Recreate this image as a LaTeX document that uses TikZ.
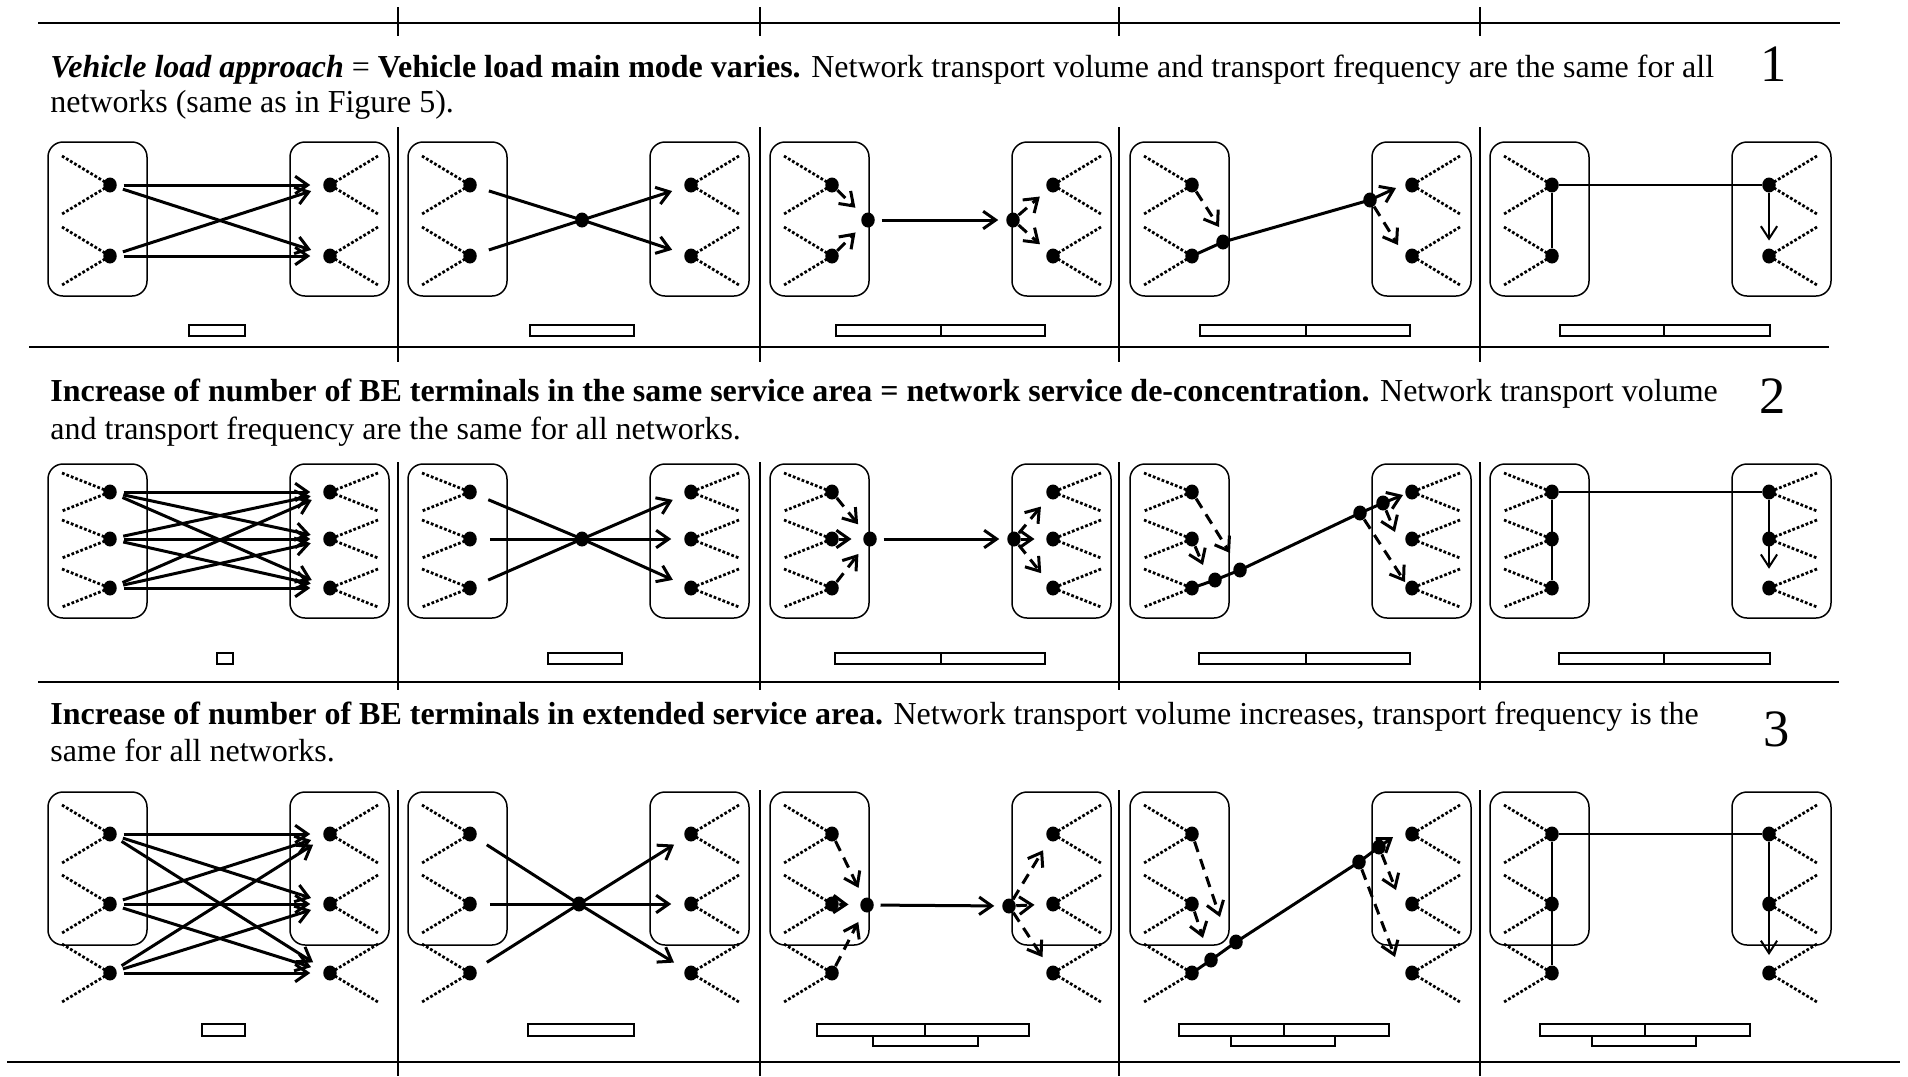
\documentclass[tikz,border=0pt]{standalone}
\usepackage{fontspec}
\setmainfont{Liberation Serif}
\usetikzlibrary{arrows.meta,shapes.geometric}
\begin{document}
\begin{tikzpicture}[x=0.4pt,y=-0.4pt,
  termdot/.style={ellipse,fill=black,inner sep=0pt,minimum width=5.4pt,minimum height=6pt},
  grpbox/.style={draw,line width=0.6pt,rounded corners=6pt},
  dotline/.style={line width=1.1pt,dash pattern=on 1.1pt off 0.8pt},
  flowarrow/.style={line width=1.2pt,-{Straight Barb[length=5pt,width=7pt]}},
  dflow/.style={flowarrow,dash pattern=on 4.4pt off 3pt},
  linkline/.style={line width=0.8pt},
  thinarrow/.style={line width=0.8pt,-{Straight Barb[length=5pt,width=6.5pt]}},
  barbox/.style={draw,line width=0.8pt,fill=white},
  rulel/.style={line width=0.9pt},
  divl/.style={line width=0.6pt},
  txt/.style={anchor=base west,inner sep=0pt,font=\fontsize{12.8}{15}\selectfont},
  num/.style={anchor=base,inner sep=0pt,font=\fontsize{21}{24}\selectfont}]

\path[use as bounding box] (0,0) rectangle (1908,1076);

% rules and dividers
\draw[rulel] (38,23) -- (1840,23);
\draw[rulel] (29,347) -- (1829,347);
\draw[rulel] (38,682) -- (1839,682);
\draw[rulel] (7,1062) -- (1900,1062);
\foreach \x in {398,760,1119,1480} {
  \draw[divl] (\x,7) -- (\x,36);
  \draw[divl] (\x,127) -- (\x,362);
  \draw[divl] (\x,462) -- (\x,690);
  \draw[divl] (\x,790) -- (\x,1076);
}

% texts
\node[txt] (t1a) at (50,77) {\textbf{\textit{Vehicle load approach}} = \textbf{Vehicle load main mode varies.} Network transport volume and transport frequency are the same for all};
\node[txt] (t1b) at (50,112) {networks (same as in Figure 5).};
\node[num] (n1) at (1774,81) {1};
\node[txt] (t2a) at (50,401) {\textbf{Increase of number of BE terminals in the same service area = network service de-concentration.} Network transport volume};
\node[txt] (t2b) at (50,439) {and transport frequency are the same for all networks.};
\node[num] (n2) at (1773,413) {2};
\node[txt] (t3a) at (50,724) {\textbf{Increase of number of BE terminals in extended service area.} Network transport volume increases, transport frequency is the};
\node[txt] (t3b) at (50,761) {same for all networks.};
\node[num] (n3) at (1777,746) {3};

% boxes, terminals
\foreach \p/\P/\Rx in {1/38/292,2/398/293,3/760/293,4/1120/292,5/1480/289} {
  \foreach \r/\top/\bot/\dy/\ylist in {1/142/296/29/{185,256},2/464/618/19/{492,539,588},3/792/945/29/{834,904,973}} {
    \draw[grpbox] (\P+10,\top) rectangle (\P+109,\bot);
    \draw[grpbox] (\P+252,\top) rectangle (\P+351,\bot);
    \foreach \y [count=\i] in \ylist {
      \draw[dotline] (\P+72-48,\y-\dy) -- (\P+72,\y) -- (\P+72-48,\y+\dy);
      \node[termdot] (r\r-p\p-L\i) at (\P+72,\y) {};
      \draw[dotline] (\P+\Rx+48,\y-\dy) -- (\P+\Rx,\y) -- (\P+\Rx+48,\y+\dy);
      \node[termdot] (r\r-p\p-R\i) at (\P+\Rx,\y) {};
    }
  }
}

% hubs
\node[termdot] (r1-p2-H) at (582,220) {};
\node[termdot] (r1-p3-HL) at (868,220) {};
\node[termdot] (r1-p3-HR) at (1013,220) {};
\node[termdot] (r1-p4-A) at (1223,242) {};
\node[termdot] (r1-p4-C) at (1370,200) {};
\node[termdot] (r2-p2-H) at (582,539) {};
\node[termdot] (r2-p3-HL) at (870,539) {};
\node[termdot] (r2-p3-HR) at (1014,539) {};
\node[termdot] (r2-p4-A) at (1215,580) {};
\node[termdot] (r2-p4-B) at (1240,570) {};
\node[termdot] (r2-p4-C) at (1360,513) {};
\node[termdot] (r2-p4-D) at (1383,503) {};
\node[termdot] (r3-p2-H) at (579,904) {};
\node[termdot] (r3-p3-HL) at (867,905) {};
\node[termdot] (r3-p3-HR) at (1009,906) {};
\node[termdot] (r3-p4-A) at (1211,960) {};
\node[termdot] (r3-p4-B) at (1236,942) {};
\node[termdot] (r3-p4-C) at (1359,862) {};
\node[termdot] (r3-p4-D) at (1379,847) {};

% free arrow ends
\coordinate (r1-p4-e0) at (1396,188);
\coordinate (r1-p4-e1) at (1219,227);
\coordinate (r1-p4-e2) at (1398,245);
\coordinate (r2-p4-e0) at (1403,495);
\coordinate (r2-p4-e1) at (1230,553);
\coordinate (r2-p4-e2) at (1203,565);
\coordinate (r2-p4-e3) at (1395,532);
\coordinate (r2-p4-e4) at (1405,582);
\coordinate (r3-p4-e0) at (1393,837);
\coordinate (r3-p4-e1) at (1220,917);
\coordinate (r3-p4-e2) at (1203,938);
\coordinate (r3-p4-e3) at (1396,890);
\coordinate (r3-p4-e4) at (1395,957);

% ---- row 1
\foreach \i in {1,2} \foreach \j in {1,2}
  \draw[flowarrow,shorten <=2.5pt,shorten >=5pt] (r1-p1-L\i) -- (r1-p1-R\j);
\draw[flowarrow,shorten <=5pt,shorten >=5pt] (r1-p2-L1) -- (r1-p2-H.center) -- (r1-p2-R2);
\draw[flowarrow,shorten <=5pt,shorten >=5pt] (r1-p2-L2) -- (r1-p2-H.center) -- (r1-p2-R1);
\draw[dflow,shorten >=4pt] (r1-p3-L1) -- (r1-p3-HL);
\draw[dflow,shorten >=4pt] (r1-p3-L2) -- (r1-p3-HL);
\draw[flowarrow,shorten <=2.5pt,shorten >=3pt] (r1-p3-HL) -- (r1-p3-HR);
\draw[dflow,shorten >=4pt] (r1-p3-HR) -- (r1-p3-R1);
\draw[dflow,shorten >=4pt] (r1-p3-HR) -- (r1-p3-R2);
\draw[flowarrow] (r1-p4-L2.center) -- (r1-p4-A.center) -- (r1-p4-C.center) -- (r1-p4-e0);
\draw[dflow] (r1-p4-L1) -- (r1-p4-e1);
\draw[dflow] (r1-p4-C) -- (r1-p4-e2);
\draw[linkline] (r1-p5-L1) -- (r1-p5-L2);
\draw[linkline] (r1-p5-L1) -- (r1-p5-R1);
\draw[thinarrow,shorten >=3pt] (r1-p5-R1) -- (r1-p5-R2);

% ---- row 2
\foreach \i in {1,2,3} \foreach \j in {1,2,3}
  \draw[flowarrow,shorten <=2.5pt,shorten >=5pt] (r2-p1-L\i) -- (r2-p1-R\j);
\draw[flowarrow,shorten <=5pt,shorten >=5pt] (r2-p2-L1) -- (r2-p2-H.center) -- (r2-p2-R3);
\draw[flowarrow,shorten <=5pt,shorten >=5pt] (r2-p2-L2) -- (r2-p2-H.center) -- (r2-p2-R2);
\draw[flowarrow,shorten <=5pt,shorten >=5pt] (r2-p2-L3) -- (r2-p2-H.center) -- (r2-p2-R1);
\foreach \i in {1,2,3} {
  \draw[dflow,shorten >=4.5pt] (r2-p3-L\i) -- (r2-p3-HL);
  \draw[dflow,shorten >=4.5pt] (r2-p3-HR) -- (r2-p3-R\i);
}
\draw[flowarrow,shorten <=2.5pt,shorten >=3pt] (r2-p3-HL) -- (r2-p3-HR);
\draw[flowarrow] (r2-p4-L3.center) -- (r2-p4-A.center) -- (r2-p4-B.center) -- (r2-p4-C.center) -- (r2-p4-D.center) -- (r2-p4-e0);
\draw[dflow] (r2-p4-L1) -- (r2-p4-e1);
\draw[dflow] (r2-p4-L2) -- (r2-p4-e2);
\draw[dflow] (r2-p4-D) -- (r2-p4-e3);
\draw[dflow] (r2-p4-C) -- (r2-p4-e4);
\draw[linkline] (r2-p5-L1) -- (r2-p5-L3);
\draw[linkline] (r2-p5-L1) -- (r2-p5-R1);
\draw[thinarrow,shorten >=4.5pt] (r2-p5-R1) -- (r2-p5-R3);

% ---- row 3
\foreach \i in {1,2,3} \foreach \j in {1,2,3}
  \draw[flowarrow,shorten <=2.5pt,shorten >=5pt] (r3-p1-L\i) -- (r3-p1-R\j);
\draw[flowarrow,shorten <=5pt,shorten >=5pt] (r3-p2-L1) -- (r3-p2-H.center) -- (r3-p2-R3);
\draw[flowarrow,shorten <=5pt,shorten >=5pt] (r3-p2-L2) -- (r3-p2-H.center) -- (r3-p2-R2);
\draw[flowarrow,shorten <=5pt,shorten >=5pt] (r3-p2-L3) -- (r3-p2-H.center) -- (r3-p2-R1);
\foreach \i in {1,2,3} {
  \draw[dflow,shorten >=4.5pt] (r3-p3-L\i) -- (r3-p3-HL);
  \draw[dflow,shorten >=4.5pt] (r3-p3-HR) -- (r3-p3-R\i);
}
\draw[flowarrow,shorten <=2.5pt,shorten >=3pt] (r3-p3-HL) -- (r3-p3-HR);
\draw[flowarrow] (r3-p4-L3.center) -- (r3-p4-A.center) -- (r3-p4-B.center) -- (r3-p4-C.center) -- (r3-p4-D.center) -- (r3-p4-e0);
\draw[dflow] (r3-p4-L1) -- (r3-p4-e1);
\draw[dflow] (r3-p4-L2) -- (r3-p4-e2);
\draw[dflow] (r3-p4-D) -- (r3-p4-e3);
\draw[dflow] (r3-p4-C) -- (r3-p4-e4);
\draw[linkline] (r3-p5-L1) -- (r3-p5-L3);
\draw[linkline] (r3-p5-L1) -- (r3-p5-R1);
\draw[thinarrow,shorten >=4pt] (r3-p5-R1) -- (r3-p5-R3);

% ---- bars
\draw[barbox] (189,325) rectangle (245,336);
\draw[barbox] (530,325) rectangle (634,336);
\foreach \a/\b/\c in {836/941/1045,1200/1306/1410,1560/1664/1770} {
  \draw[barbox] (\a,325) rectangle (\b,336);
  \draw[barbox] (\b,325) rectangle (\c,336);
  \draw[barbox] (\a-1,653) rectangle (\b,664);
  \draw[barbox] (\b,653) rectangle (\c,664);
}
\draw[barbox] (217,653) rectangle (233,664);
\draw[barbox] (548,653) rectangle (622,664);
\draw[barbox] (202,1024) rectangle (245,1036);
\draw[barbox] (528,1024) rectangle (634,1036);
\foreach \a/\b/\c/\d/\e in {817/925/1029/873/978,1179/1284/1389/1231/1335,1540/1645/1750/1592/1696} {
  \draw[barbox] (\d,1036) rectangle (\e,1046);
  \draw[barbox] (\a,1024) rectangle (\b,1036);
  \draw[barbox] (\b,1024) rectangle (\c,1036);
}
\end{tikzpicture}
\end{document}
